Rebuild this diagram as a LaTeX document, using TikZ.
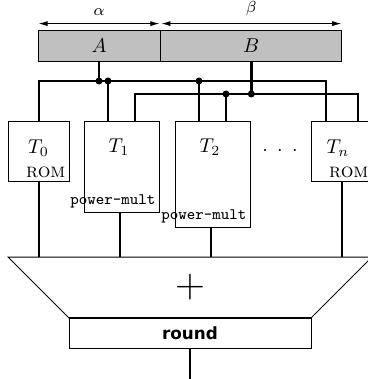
\documentclass[tikz,border=0pt]{standalone}
\usepackage{fontspec}
\newfontfamily\labelsans{DejaVu Sans}
\usetikzlibrary{positioning,arrows.meta,calc}
\definecolor{RegGray}{RGB}{192,192,192}
\tikzset{
  wire/.style={line width=1.2pt,draw=black},
  dimline/.style={{Latex[length=4.5pt,width=2.5pt]}-{Latex[length=4.5pt,width=2.5pt]},line width=0.4pt,
    shorten <=0.5pt,shorten >=0.5pt},
  regbox/.style={draw,fill=RegGray,minimum height=15.5pt,inner sep=0pt},
  tablebox/.style={draw,minimum width=30.5pt,inner sep=0pt,anchor=north west},
  multbox/.style={draw,minimum width=37.5pt,inner sep=0pt,anchor=north west},
  kind/.style={anchor=south east,inner sep=2pt},
  joint/.style={circle,fill=black,inner sep=0pt,minimum size=3.5pt},
  adder/.style={draw=black,line width=0.5pt},
  roundbox/.style={draw,minimum width=121pt,minimum height=15pt,inner sep=0pt,
    font=\labelsans\bfseries\fontsize{8.4}{10}\selectfont}
}

\begin{document}
\begin{tikzpicture}[x=0.5pt,y=-0.5pt]
  \useasboundingbox (0,0) rectangle (368,379);
  \node[regbox,minimum width=61pt] (a) at (99,45.5) {$A$};
  \node[regbox,minimum width=90.5pt,right=0pt of a] (b) {$B$};
  \draw[dimline] ([yshift=3pt]a.north west) -- node[above=0.5pt,font=\footnotesize] (alab) {$\alpha$} ([yshift=3pt]a.north east);
  \draw[dimline] ([yshift=3pt]b.north west) -- node[above=0.5pt,font=\footnotesize] (blab) {$\beta$} ([yshift=3pt]b.north east);

  \node[tablebox,minimum height=30pt] (t0) at (8,121) {};
  \node[multbox,minimum height=45.5pt] (t1) at (84,121) {};
  \node[multbox,minimum height=53pt] (t2) at (175,121) {};
  \node[tablebox,minimum height=30pt] (tn) at (311,121) {};
  \node (t0name) at (38.5,148) {$T_0$};
  \node (t1name) at (119,147) {$T_1$};
  \node (t2name) at (210,147) {$T_2$};
  \node (tnname) at (338,148) {$T_n$};
  \node[kind] (t0kind) at (t0.south east) {\textsc{rom}};
  \node[kind,font=\ttfamily\footnotesize] (t1kind) at (t1.south east) {power-mult};
  \node[kind,font=\ttfamily\footnotesize] (t2kind) at (t2.south east) {power-mult};
  \node[kind] (tnkind) at (tn.south east) {\textsc{rom}};
  \node (dots) at (280,151) {$\cdot$\hspace{4.7pt}$\cdot$\hspace{4.7pt}$\cdot$};

  \coordinate (t1ina) at ([xshift=12pt]t1.north west);
  \coordinate (t1inb) at ([xshift=25.5pt]t1.north west);
  \coordinate (t2ina) at ([xshift=12pt]t2.north west);
  \coordinate (t2inb) at ([xshift=25.5pt]t2.north west);
  \coordinate (tnina) at ([xshift=7.5pt]tn.north west);
  \coordinate (tninb) at ([xshift=-7.5pt]tn.north east);
  \coordinate (busa) at (a.south |- 0,81);
  \coordinate (busb) at (b.south |- 0,94);

  \draw[wire] (a.south) -- (busa);
  \draw[wire] (t0.north) |- (tnina |- busa) -- (tnina);
  \draw[wire] (t1ina) -- (t1ina |- busa);
  \draw[wire] (t2ina) -- (t2ina |- busa);
  \draw[wire] (b.south) -- (busb);
  \draw[wire] (t1inb) |- (tninb |- busb) -- (tninb);
  \draw[wire] (t2inb) -- (t2inb |- busb);
  \node[joint] (ja) at (busa) {};
  \node[joint] (j1a) at (t1ina |- busa) {};
  \node[joint] (j2a) at (t2ina |- busa) {};
  \node[joint] (jb) at (busb) {};
  \node[joint] (j2b) at (t2inb |- busb) {};

  \coordinate (s1) at (8,257);
  \coordinate (s2) at (372,257);
  \coordinate (s3) at (311,318);
  \coordinate (s4) at (69,318);
  \draw[adder] (s1) -- (s2) -- (s3) -- (s4) -- cycle;
  \coordinate (t1out) at ([xshift=-1pt]t1.south);
  \coordinate (t2out) at ([xshift=-1pt]t2.south);
  \draw[wire] (t0.south) -- (t0.south |- s1);
  \draw[wire] (t1out) -- (t1out |- s1);
  \draw[wire] (t2out) -- (t2out |- s1);
  \draw[wire] (tn.south) -- (tn.south |- s1);
  \node (plus) at (190,287.5) {\fontsize{22.5}{24}\selectfont$\mathbf{+}$};

  \node[roundbox] (rnd) at (190,333) {round};
  \draw[line width=1pt] (s4) -- (s3);
  \coordinate (out) at (190,379);
  \draw[wire] (rnd.south) -- (out);
\end{tikzpicture}
\end{document}
